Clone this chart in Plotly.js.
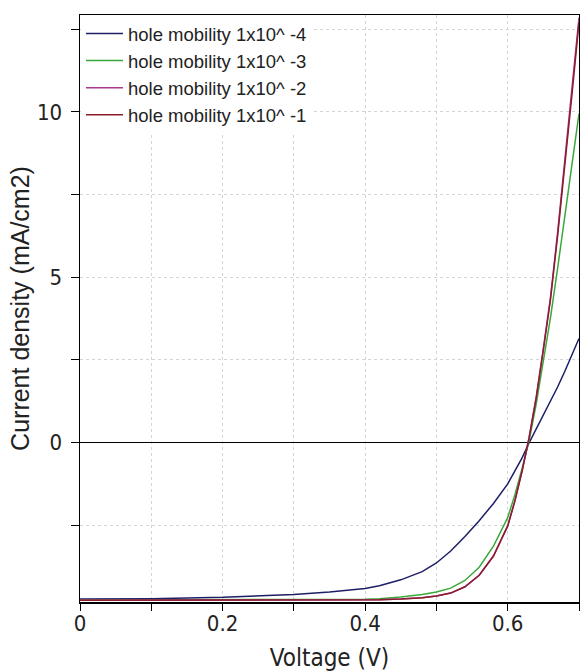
<!DOCTYPE html>
<html>
<head>
<meta charset="utf-8">
<script src="https://cdn.plot.ly/plotly-3.0.1.min.js"></script>
<style>html,body{margin:0;padding:0;background:#fff;}#chart{width:580px;height:672px;}</style>
</head>
<body>
<div id="chart"></div>
<script>
var voltage = [0, 0.1, 0.2, 0.25, 0.3, 0.35, 0.4, 0.42, 0.45, 0.48, 0.5, 0.52, 0.54, 0.56, 0.58, 0.6, 0.61, 0.62, 0.63, 0.64, 0.65, 0.66, 0.67, 0.68, 0.69, 0.7];
var mu1e4 = [-4.73, -4.72, -4.68, -4.64, -4.59, -4.52, -4.41, -4.33, -4.15, -3.90, -3.64, -3.28, -2.84, -2.36, -1.84, -1.25, -0.88, -0.47, -0.01, 0.42, 0.82, 1.23, 1.68, 2.15, 2.65, 3.15];
var mu1e3 = [-4.76, -4.76, -4.76, -4.76, -4.75, -4.75, -4.74, -4.72, -4.67, -4.59, -4.52, -4.40, -4.17, -3.77, -3.13, -2.27, -1.58, -0.80, 0.05, 1.17, 2.50, 3.78, 5.27, 6.87, 8.40, 9.95];
var mu1e2 = [-4.77, -4.77, -4.77, -4.77, -4.77, -4.77, -4.76, -4.75, -4.73, -4.69, -4.64, -4.55, -4.36, -4.01, -3.43, -2.52, -1.77, -0.88, 0.15, 1.38, 2.85, 4.40, 6.35, 8.45, 10.65, 12.85];
var mu1e1 = [-4.77, -4.77, -4.77, -4.77, -4.77, -4.77, -4.76, -4.75, -4.73, -4.69, -4.64, -4.55, -4.36, -4.01, -3.43, -2.52, -1.77, -0.88, 0.15, 1.35, 2.80, 4.32, 6.25, 8.30, 10.50, 12.70];
var seriesNames = ["hole mobility 1x10^ -4", "hole mobility 1x10^ -3", "hole mobility 1x10^ -2", "hole mobility 1x10^ -1"];
var seriesColors = ["#1c1f66", "#3aa83a", "#a8398c", "#8b1c2c"];
var seriesValues = [mu1e4, mu1e3, mu1e2, mu1e1];

var traces = seriesValues.map(function (vals, i) {
  return {
    x: voltage, y: vals, type: "scatter", mode: "lines",
    name: seriesNames[i],
    line: {color: seriesColors[i], width: 1.5}
  };
});

var narrow = "Liberation Sans Narrow, DejaVu Sans Condensed, Arial Narrow, Liberation Sans, sans-serif";
var gridC = "#d4d4d4";

var layout = {
  width: 580, height: 672,
  margin: {l: 80, r: 1, t: 15, b: 70},
  paper_bgcolor: "#ffffff", plot_bgcolor: "#ffffff",
  showlegend: true,
  legend: {
    x: 0.002, y: 1, xanchor: "left", yanchor: "top",
    bgcolor: "#ffffff", borderwidth: 0, itemwidth: 37,
    font: {family: "Liberation Sans, Arial, sans-serif", size: 18.5, color: "#222"}
  },
  xaxis: {
    range: [0, 0.7],
    showline: true, linecolor: "#000", linewidth: 1.5, mirror: true,
    ticks: "outside", ticklen: 7, tickcolor: "#000", tickwidth: 1,
    showgrid: true, gridcolor: gridC, griddash: "dot", gridwidth: 1,
    zeroline: false,
    minor: {dtick: 0.1, tick0: 0, ticks: "outside", ticklen: 7, tickcolor: "#000", showgrid: true, gridcolor: gridC, griddash: "dot"},
    tickfont: {family: narrow, size: 22, color: "#222"},
    tickvals: [0, 0.2, 0.4, 0.6], ticktext: ["0", "0.2", "0.4", "0.6"],
    ticklabelstandoff: -6,
    title: {text: "Voltage (V)", font: {family: narrow, size: 24, color: "#222"}, standoff: 20}
  },
  yaxis: {
    range: [-4.82, 12.93], dtick: 5, tick0: 0,
    showline: true, linecolor: "#000", linewidth: 1.5, mirror: true,
    ticks: "outside", ticklen: 8, tickcolor: "#000", tickwidth: 1,
    showgrid: true, gridcolor: gridC, griddash: "dot", gridwidth: 1,
    zeroline: true, zerolinecolor: "#000", zerolinewidth: 1.5,
    minor: {dtick: 2.5, tick0: 0, ticks: "outside", ticklen: 8, tickcolor: "#000", showgrid: true, gridcolor: gridC, griddash: "dot"},
    tickfont: {family: narrow, size: 22, color: "#222"},
    ticklabelstandoff: 4,
    title: {text: "Current density (mA/cm2)", font: {family: "Liberation Sans, Arial, sans-serif", size: 25, color: "#222"}, standoff: 0}
  }
};

Plotly.newPlot("chart", traces, layout, {displayModeBar: false, staticPlot: true});
</script>
</body>
</html>
